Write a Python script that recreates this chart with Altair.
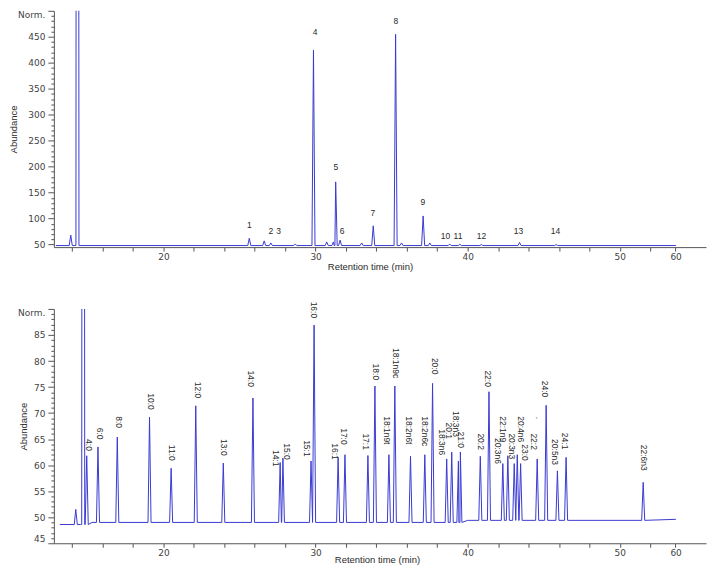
import altair as alt
import pandas as pd
from bisect import bisect_right

# ---------------- axis ticks (retention time, as drawn) ----------------
x_minor_ticks = [14, 16, 18, 20, 22, 24, 26, 28, 30, 32, 34, 36, 38, 40, 42, 44, 46, 48, 50, 52]
x_label_values = [20, 30, 40, 50, 53.67]
x_label_texts = ["20", "30", "40", "50", "60"]
x_domain = [12.79, 55.67]

# ---------------- top panel (overview) ----------------
top_base_time = [12.92, 53.69]
top_base_value = [48, 48]
top_peak_time = [13.90, 14.34, 25.64, 26.62, 27.06, 28.66, 29.86, 30.73, 31.17, 31.32, 31.61,
                 33.03, 33.79, 35.26, 35.65, 37.07, 37.51, 38.82, 39.48, 40.90, 43.41, 45.82]
top_peak_height = [68, 5000, 62, 57, 53, 51, 424, 55, 55, 170.6, 58.5,
                   53, 86, 454.6, 53, 105, 53, 51, 50.5, 50, 54, 50]
top_label_text = ["1", "2", "3", "4", "5", "6", "7", "8", "9", "10", "11", "12", "13", "14"]
top_label_time = [25.64, 27.06, 27.56, 29.97, 31.34, 31.74, 33.77, 35.28, 37.05, 38.54, 39.36, 40.90, 43.34, 45.77]
top_label_y = [87.9, 76.3, 76.3, 459, 200, 76, 111.5, 480, 132.7, 66, 66, 66, 76, 76]

# ---------------- bottom panel (zoomed, labelled FAMEs) ----------------
bot_base_time = [13.18, 14.55, 15.30, 40.00, 53.69]
bot_base_value = [48.6, 48.6, 49.0, 49.4, 49.6]
bot_peak_time = [14.23, 14.72, 14.95, 15.69, 16.96, 19.08, 20.50, 22.12, 23.93, 25.88, 27.67, 27.85,
                 29.70, 29.90, 31.48, 31.93, 33.44, 33.90, 34.82, 35.21, 36.24, 37.18, 37.69, 38.62,
                 38.95, 39.39, 39.52, 40.83, 41.40, 42.31, 42.64, 43.06, 43.26, 43.48, 44.57, 45.16,
                 45.90, 46.47, 51.54]
bot_peak_height = [51.5, 500, 61.8, 63.5, 65.4, 69.2, 59.4, 71.4, 60.4, 72.9, 60.5, 61.35,
                   60.8, 86.9, 61.5, 62.0, 61.85, 75.2, 62.0, 75.2, 61.7, 62.0, 75.7, 61.2,
                   62.5, 60.8, 62.5, 61.7, 74.1, 60.3, 61.8, 60.3, 62.0, 60.3, 61.2, 71.5,
                   58.9, 61.5, 56.7]
bot_label_text = ["4:0", "6:0", "8:0", "10:0", "11:0", "12:0", "13:0", "14:0", "14:1", "15:0",
                  "15:1", "16:0", "16:1", "17:0", "17:1", "18:0", "18:1n9t", "18:1n9c", "18:2n6t",
                  "18:2n6c", "20:0", "18:3n6", "20:1", "18:3n3", ".21:0", "20:2", "22:0", "20:3n6",
                  "22:1n9", "20:3n3", "20:4n6", "23:0", ".", "22:2", "24:0", "20:5n3", "24:1", "22:6n3"]
bot_label_time = [15.10, 15.80, 17.07, 19.15, 20.57, 22.25, 24.00, 25.75, 27.40, 28.15,
                  29.42, 29.90, 31.28, 31.89, 33.31, 33.97, 34.67, 35.28, 36.15,
                  37.18, 37.84, 38.34, 38.77, 39.21, 39.58, 40.85, 41.33, 41.98,
                  42.31, 42.90, 43.48, 43.78, 44.66, 44.39, 45.11, 45.77, 46.43, 51.60]
bot_label_y = [65.0, 67.2, 69.4, 73.8, 63.9, 76.0, 65.0, 78.2, 62.9, 64.2,
               64.8, 91.4, 64.2, 67.1, 66.1, 79.5, 69.4, 82.5, 69.4,
               69.4, 80.6, 66.9, 68.2, 70.4, 66.9, 66.1, 78.2, 65.2,
               69.4, 66.1, 69.4, 64.0, 69.3, 66.1, 76.2, 65.0, 66.2, 63.9]

PEAK_HALF_WIDTH = 0.1
LINE_COLOR = "#3a3ad2"
TEXT_COLOR = "#2a2a2a"
AXIS_COLOR = "#555555"


def build_trace(base_t, base_v, peak_t, peak_h, w):
    rows = [{"t": t, "v": v, "label": ""} for t, v in zip(base_t, base_v)]
    for t, h in zip(peak_t, peak_h):
        i = max(bisect_right(base_t, t) - 1, 0)
        b = base_v[i]
        rows += [{"t": t - w, "v": b}, {"t": t, "v": h}, {"t": t + w, "v": b}]
    rows.sort(key=lambda r: r["t"])
    return pd.DataFrame(rows)


label_map = " : ".join(
    f"datum.value == {v} ? '{s}'" for v, s in zip(x_label_values, x_label_texts)
) + " : ''"
x_axis_values = sorted(set(x_minor_ticks + x_label_values))


def panel(trace, labels, ydom, yvals, major, title_x_y, title_xx, title_yy, height, rotated):
    x_enc = alt.X(
        "t:Q", scale=alt.Scale(domain=x_domain, nice=False, zero=False),
        axis=alt.Axis(
            values=x_axis_values, labelExpr=label_map, title="Retention time (min)",
            tickSize=4, labelPadding=1, grid=False, labelOverlap=False, labelBound=False,
            labelFlush=False, titleX=title_xx, titleY=title_yy, titleBaseline="middle",
            titleAnchor="start", titleAlign="center",
        ),
    )
    y_enc = alt.Y(
        "v:Q", scale=alt.Scale(domain=ydom, nice=False, zero=False),
        axis=alt.Axis(
            values=yvals,
            labelExpr=f"datum.value == {ydom[1]} ? 'Norm.' : (datum.value % {major} == 0 ? datum.label : '')",
            tickSize={"condition": {"test": f"datum.value % {major} == 0", "value": 6}, "value": 3},
            labelPadding=3, labelFlush=True, labelOverlap=False, grid=False, title="Abundance",
            titleX=title_x_y, titleBaseline="middle",
        ),
    )
    base = alt.Chart().encode(x=x_enc, y=y_enc)
    line = base.mark_line(color=LINE_COLOR, strokeWidth=1, clip=True).properties(data=trace)
    if rotated:
        txt = base.mark_text(angle=90, align="left", baseline="middle",
                             font="Liberation Sans", fontSize=8.5, color=TEXT_COLOR)
    else:
        txt = base.mark_text(align="center", baseline="middle",
                             font="Liberation Sans", fontSize=8.5, color=TEXT_COLOR)
    txt = txt.encode(text="label:N").properties(data=labels)
    return alt.layer(line, txt).properties(width=654, height=height)


top_trace = build_trace(top_base_time, top_base_value, top_peak_time, top_peak_height, PEAK_HALF_WIDTH)
bot_trace = build_trace(bot_base_time, bot_base_value, bot_peak_time, bot_peak_height, PEAK_HALF_WIDTH)
top_labels = pd.DataFrame({"t": top_label_time, "v": top_label_y, "label": top_label_text})
bot_labels = pd.DataFrame({"t": bot_label_time, "v": bot_label_y, "label": bot_label_text})

top = panel(top_trace, top_labels, [45, 500], list(range(50, 501, 10)), 50, -40, 317, 19.4, 237, False)
bottom = panel(bot_trace, bot_labels, [45, 90], list(range(45, 91, 1)), 5, -30, 324, 16.5, 235, True)

chart = alt.vconcat(top, bottom, spacing=62, bounds="flush").properties(
    padding={"top": 1, "left": 0, "right": 0, "bottom": 0}
).configure_view(stroke="transparent").configure_axis(
    domainColor=AXIS_COLOR, tickColor=AXIS_COLOR,
    labelFont="DejaVu Sans", labelFontSize=9, labelColor="#444444",
    titleFont="Liberation Sans", titleFontSize=9.5, titleFontWeight="normal", titleColor=TEXT_COLOR,
)

chart.save("out.html", embed_options={"renderer": "svg", "actions": False})
